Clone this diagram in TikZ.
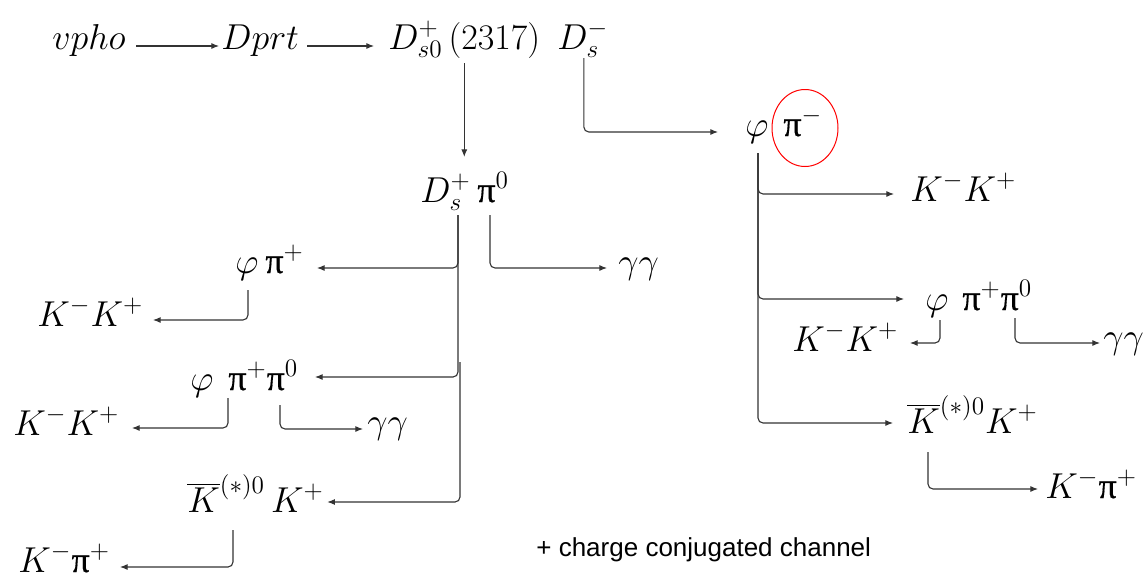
\RequirePackage{fix-cm}
\documentclass[tikz,border=0pt]{standalone}
\usepackage{fontspec}
\newfontfamily\grk[FakeBold=0.4]{Liberation Serif}
\newfontfamily\lsans{Liberation Sans}
\usetikzlibrary{arrows.meta,calc,shapes.geometric}
\newcommand\ppi{\mbox{\grk π}}
\begin{document}
\begin{tikzpicture}[x=0.5pt,y=-0.5pt,
  lbl/.style={inner sep=0pt, anchor=base west, font=\fontsize{18}{22}\selectfont},
  arr/.style={draw=black!80, line width=0.55pt, -{Latex[length=3.8pt,width=3pt]}, rounded corners=2.5pt}]
\useasboundingbox (0,0) rectangle (1146,584);
% top row
\node[lbl] (vpho) at (52,49) {$vpho$};
\node[lbl] (Dprt) at (221,49) {$Dprt$};
\node[lbl] (Ds0) at (388,49) {$D^+_{s0}\,(2317)$};
\node[lbl] (Dsm) at (557,49) {$D^-_s$};
% centre
\node[lbl] (DsP) at (420,202) {$D^+_s$};
\node[lbl] (piz) at (477,202) {$\ppi^0$};
% right branch
\node[lbl] (phiR) at (745,136) {$\varphi$};
\node[lbl] (pimR) at (783,136) {$\ppi^-$};
\node[draw=red, line width=0.5pt, ellipse, minimum width=33pt, minimum height=38.5pt, inner sep=0pt] (ring) at (805,128) {};
\node[lbl] (KKr) at (910,201) {$K^-K^+$};
\node[lbl] (phi2) at (925,310) {$\varphi$};
\node[lbl] (pp2) at (962,310) {$\ppi^+\ppi^0$};
\node[lbl] (KK3) at (792,351) {$K^-K^+$};
\node[lbl] (gg2) at (1103,348) {$\gamma\gamma$};
\node[lbl] (Kbr) at (907,433) {$\overline{K}^{(*)0}K^+$};
\node[lbl] (Kpr) at (1045,498) {$K^-\ppi^+$};
% left branch
\node[lbl] (phiL1) at (235,273) {$\varphi$};
\node[lbl] (piL1) at (265,273) {$\ppi^+$};
\node[lbl] (gg1) at (618,273) {$\gamma\gamma$};
\node[lbl] (KK1) at (37,326) {$K^-K^+$};
\node[lbl] (phiL2) at (190,390) {$\varphi$};
\node[lbl] (ppL2) at (228,390) {$\ppi^+\ppi^0$};
\node[lbl] (KK2) at (13,435) {$K^-K^+$};
\node[lbl] (gg3) at (367,433) {$\gamma\gamma$};
\node[lbl] (KbL) at (187,512) {$\overline{K}^{(*)0}\,K^+$};
\node[lbl] (Kpl) at (18,572) {$K^-\ppi^+$};
\node[inner sep=0pt, anchor=base west, font=\lsans\fontsize{13}{15}\selectfont] (note) at (536,556) {+ charge conjugated channel};
% connectors top
\draw[arr] ($(vpho.base east)+(10,-3)$) -- ($(Dprt.base west)+(-2,-3)$);
\draw[arr] ($(Dprt.base east)+(8,-3)$) -- ($(Ds0.base west)+(-14,-3)$);
\draw[arr] ($(Ds0.base)+(0,14)$) -- ++(0,94);
\draw[arr] ($(Dsm.base)+(1,9)$) |- ($(phiR.base west)+(-27,-4)$);
% right
\draw[arr] ($(phiR.base west)+(13,17)$) |- ($(KKr.base west)+(-16,-7)$);
\draw[arr] ($(phiR.base west)+(13,17)$) |- ($(phi2.base west)+(-21,-11)$);
\draw[arr] ($(phiR.base west)+(13,17)$) |- ($(Kbr.base west)+(-14,-10)$);
\draw[arr] ($(phi2.base west)+(15,10)$) |- ($(KK3.base west)+(118,-8)$);
\draw[arr] ($(pp2.base west)+(53,8)$) |- ($(gg2.base west)+(-3,-5)$);
\draw[arr] ($(Kbr.base west)+(21,19)$) |- ($(Kpr.base west)+(-7,-9)$);
% left
\draw[arr] ($(DsP.base west)+(38,13)$) |- ($(piL1.base west)+(52,-5)$);
\draw[arr] ($(DsP.base west)+(38,13)$) |- ($(ppL2.base west)+(87,-13)$);
\draw[arr] ($(DsP.base west)+(40,160)$) |- ($(KbL.base east)+(3,-10)$);
\draw[arr] ($(piz.base west)+(13,13)$) |- ($(gg1.base west)+(-11,-5)$);
\draw[arr] ($(phiL1.base west)+(13,17)$) |- ($(KK1.base west)+(116,-6)$);
\draw[arr] ($(ppL2.base west)+(0,8)$) |- ($(KK2.base west)+(119,-7)$);
\draw[arr] ($(ppL2.base west)+(52,15)$) |- ($(gg3.base west)+(-4,-4)$);
\draw[arr] ($(KbL.base west)+(46,18)$) |- ($(Kpl.base west)+(102,-5)$);
\end{tikzpicture}
\end{document}
